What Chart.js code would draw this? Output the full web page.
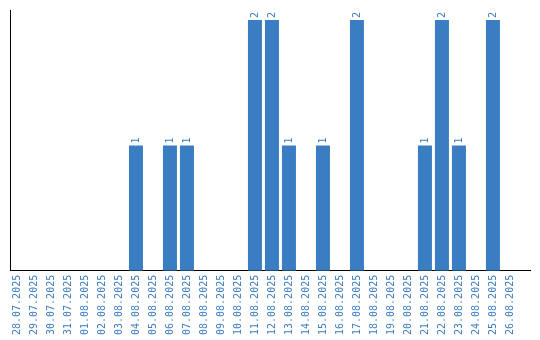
<!DOCTYPE html>
<html>
<head>
<meta charset="utf-8">
<script src="https://cdn.jsdelivr.net/npm/chart.js@4/dist/chart.umd.min.js"></script>
<style>
  html, body { margin: 0; padding: 0; background: #fff; }
  #wrap { width: 540px; height: 340px; }
</style>
</head>
<body>
<div id="wrap"><canvas id="dayChart"></canvas></div>
<script>
const dates = [
  "28.07.2025", "29.07.2025", "30.07.2025", "31.07.2025", "01.08.2025",
  "02.08.2025", "03.08.2025", "04.08.2025", "05.08.2025", "06.08.2025",
  "07.08.2025", "08.08.2025", "09.08.2025", "10.08.2025", "11.08.2025",
  "12.08.2025", "13.08.2025", "14.08.2025", "15.08.2025", "16.08.2025",
  "17.08.2025", "18.08.2025", "19.08.2025", "20.08.2025", "21.08.2025",
  "22.08.2025", "23.08.2025", "24.08.2025", "25.08.2025", "26.08.2025"
];
const counts = [
  0, 0, 0, 0, 0,
  0, 0, 1, 0, 1,
  1, 0, 0, 0, 2,
  2, 1, 0, 1, 0,
  2, 0, 0, 0, 1,
  2, 1, 0, 2, 0
];

const barColor = "#3b7dc2";
const monoFont = "'DejaVu Sans Mono', 'Liberation Mono', monospace";

// values drawn rotated above each bar
const valueLabels = {
  id: "valueLabels",
  afterDatasetsDraw(chart) {
    const c = chart.ctx;
    const meta = chart.getDatasetMeta(0);
    c.save();
    c.fillStyle = barColor;
    c.font = "10px " + monoFont;
    c.textAlign = "left";
    c.textBaseline = "middle";
    meta.data.forEach((bar, i) => {
      if (!counts[i]) return;
      c.save();
      c.translate(bar.x, bar.y - 2);
      c.rotate(-Math.PI / 2);
      c.fillText(String(counts[i]), 0, 0);
      c.restore();
    });
    c.restore();
  },
};

const ctx = document.getElementById("dayChart").getContext("2d");
new Chart(ctx, {
  type: "bar",
  data: {
    datasets: [
      {
        data: counts.map((v, i) => ({ x: i, y: v })),
        backgroundColor: barColor,
        categoryPercentage: 1,
        barPercentage: 14 / 17,
      },
    ],
  },
  options: {
    responsive: true,
    maintainAspectRatio: false,
    animation: false,
    layout: { padding: { left: 10, top: 10, right: 10, bottom: 1 } },
    plugins: {
      legend: { display: false },
      tooltip: { enabled: false },
    },
    scales: {
      x: {
        type: "linear",
        offset: false,
        min: -0.41,
        max: 30.18,
        grid: { display: false, drawTicks: false },
        border: { display: true, color: "#000", width: 1 },
        afterBuildTicks(scale) {
          scale.ticks = dates.map((_, i) => ({ value: i }));
        },
        ticks: {
          autoSkip: false,
          maxRotation: 90,
          minRotation: 90,
          padding: 4,
          color: barColor,
          font: { size: 10, family: monoFont },
          callback: (v) => dates[v],
        },
      },
      y: {
        min: 0,
        max: 2.08,
        grid: { display: false, drawTicks: false },
        border: { display: true, color: "#000", width: 1 },
        ticks: { display: false },
      },
    },
  },
  plugins: [valueLabels],
});
</script>
</body>
</html>
